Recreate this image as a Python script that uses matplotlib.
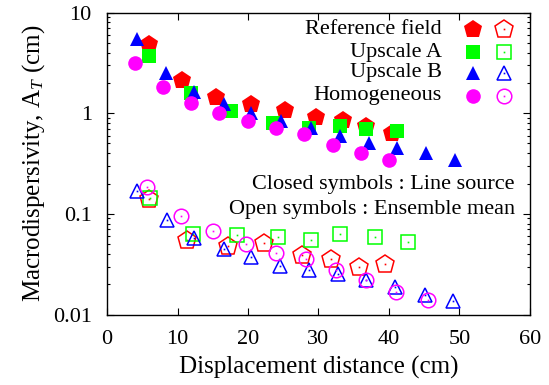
import matplotlib
matplotlib.use("Agg")
import matplotlib.pyplot as plt
from matplotlib.ticker import LogLocator, NullFormatter

plt.rcParams['font.family'] = ['Liberation Serif', 'DejaVu Serif']
plt.rcParams['mathtext.fontset'] = 'custom'
plt.rcParams['mathtext.rm'] = 'Liberation Serif'
plt.rcParams['mathtext.it'] = 'Liberation Serif:italic'

# ---- data: closed symbols (line source) ----
ref_x = [5.9, 10.6, 15.5, 20.5, 25.3, 29.7, 33.5, 36.7, 40.4]
ref_y = [4.88, 2.14, 1.44, 1.24, 1.08, 0.925, 0.857, 0.75, 0.63]
upA_x = [6.0, 11.9, 17.6, 23.5, 28.7, 33.0, 36.8, 41.2]
upA_y = [3.7, 1.6, 1.04, 0.80, 0.71, 0.74, 0.69, 0.66]
upB_x = [4.2, 8.3, 12.4, 16.6, 20.4, 24.7, 28.9, 33.0, 37.2, 41.1, 45.2, 49.4]
upB_y = [5.4, 2.53, 1.64, 1.24, 1.0, 0.83, 0.71, 0.59, 0.50, 0.45, 0.40, 0.34]
hom_x = [4.0, 7.9, 11.9, 15.9, 20.0, 24.0, 28.0, 32.0, 36.0, 40.0]
hom_y = [3.18, 1.80, 1.26, 1.01, 0.83, 0.71, 0.62, 0.48, 0.40, 0.34]

# ---- data: open symbols (ensemble mean) ----
ref_ex = [6.0, 11.4, 17.2, 22.3, 27.7, 31.8, 35.8, 39.4]
ref_ey = [0.14, 0.0552, 0.048, 0.051, 0.039, 0.0355, 0.030, 0.032]
upA_ex = [6.1, 12.2, 18.5, 24.2, 28.9, 33.0, 38.0, 42.7]
upA_ey = [0.143, 0.063, 0.061, 0.0595, 0.055, 0.063, 0.0595, 0.052]
upB_ex = [4.2, 8.5, 12.4, 16.6, 20.4, 24.5, 28.6, 32.8, 36.8, 40.9, 45.1, 49.1]
upB_ey = [0.167, 0.087, 0.058, 0.045, 0.037, 0.0307, 0.0278, 0.0254, 0.0221, 0.0187, 0.0155, 0.0135]
hom_ex = [5.6, 10.5, 15.1, 19.7, 24.0, 28.3, 32.5, 36.7, 41.0, 45.6]
hom_ey = [0.184, 0.0955, 0.068, 0.050, 0.041, 0.036, 0.0278, 0.022, 0.0169, 0.014]

labels = ["Reference field", "Upscale A", "Upscale B", "Homogeneous"]
xticks = [0, 10, 20, 30, 40, 50, 60]
yticks = [0.01, 0.1, 1, 10]
yticklabels = ["0.01", "0.1", "1", "10"]

RED, GREEN, BLUE, MAG = "#ff0000", "#00ff00", "#0000ff", "#ff00ff"
styles = [("p", RED, 13.5), ("s", GREEN, 10.3), ("^", BLUE, 10.0), ("o", MAG, 10.5)]

fig = plt.figure(figsize=(5.49, 3.85), dpi=100)
ax = fig.add_axes([0.195, 0.183, 0.770, 0.7845])

closed = [(ref_x, ref_y), (upA_x, upA_y), (upB_x, upB_y), (hom_x, hom_y)]
opens = [(ref_ex, ref_ey), (upA_ex, upA_ey), (upB_ex, upB_ey), (hom_ex, hom_ey)]

for (xs, ys), (m, c, s) in zip(opens, styles):
    ax.plot(xs, ys, linestyle='none', marker=m, markersize=s, markerfacecolor='none',
            markeredgecolor=c, markeredgewidth=1.1, zorder=3)
    ax.plot(xs, ys, linestyle='none', marker='s', markersize=1.2, markerfacecolor=c,
            markeredgecolor='none', zorder=3)
for (xs, ys), (m, c, s) in zip(closed, styles):
    ax.plot(xs, ys, linestyle='none', marker=m, markersize=s, color=c,
            markeredgewidth=0, zorder=3)

ax.set_yscale('log')
ax.set_xlim(0, 60)
ax.set_ylim(0.01, 10)
ax.set_xticks(xticks)
ax.set_yticks(yticks)
ax.set_yticklabels(yticklabels)
ax.yaxis.set_minor_locator(LogLocator(base=10, subs=range(2, 10)))
ax.yaxis.set_minor_formatter(NullFormatter())
ax.tick_params(which='both', direction='in', top=True, right=True, labelsize=16, width=0.8)
ax.tick_params(which='major', length=5)
ax.tick_params(axis='x', which='major', pad=11)
ax.tick_params(axis='y', which='major', pad=11)
ax.tick_params(which='minor', length=2.5)
for sp in ax.spines.values():
    sp.set_linewidth(1.0)

ax.set_xlabel("Displacement distance (cm)", fontsize=18, labelpad=5)
ax.set_ylabel(r"Macrodispersivity, A$_{\mathit{T}}$ (cm)", fontsize=18, labelpad=4)

# legend (gnuplot style: label, closed symbol, open symbol)
ly = [0.945, 0.869, 0.80, 0.724]
for lab, yy, (m, c, s) in zip(labels, ly, styles):
    ax.text(0.792, yy, lab, transform=ax.transAxes, ha='right', va='center', fontsize=16)
    ax.plot([0.865], [yy], transform=ax.transAxes, marker=m, markersize=s, color=c,
            markeredgewidth=0, linestyle='none', clip_on=False)
    ax.plot([0.939], [yy], transform=ax.transAxes, marker=m, markersize=s, markerfacecolor='none',
            markeredgecolor=c, markeredgewidth=1.1, linestyle='none', clip_on=False)
    ax.plot([0.939], [yy], transform=ax.transAxes, marker='s', markersize=1.2, color=c,
            markeredgewidth=0, linestyle='none', clip_on=False)

ax.text(0.965, 0.429, "Closed symbols : Line source", transform=ax.transAxes,
        ha='right', va='center', fontsize=16)
ax.text(0.965, 0.349, "Open symbols : Ensemble mean", transform=ax.transAxes,
        ha='right', va='center', fontsize=16)

fig.savefig("out.png", dpi=100)
